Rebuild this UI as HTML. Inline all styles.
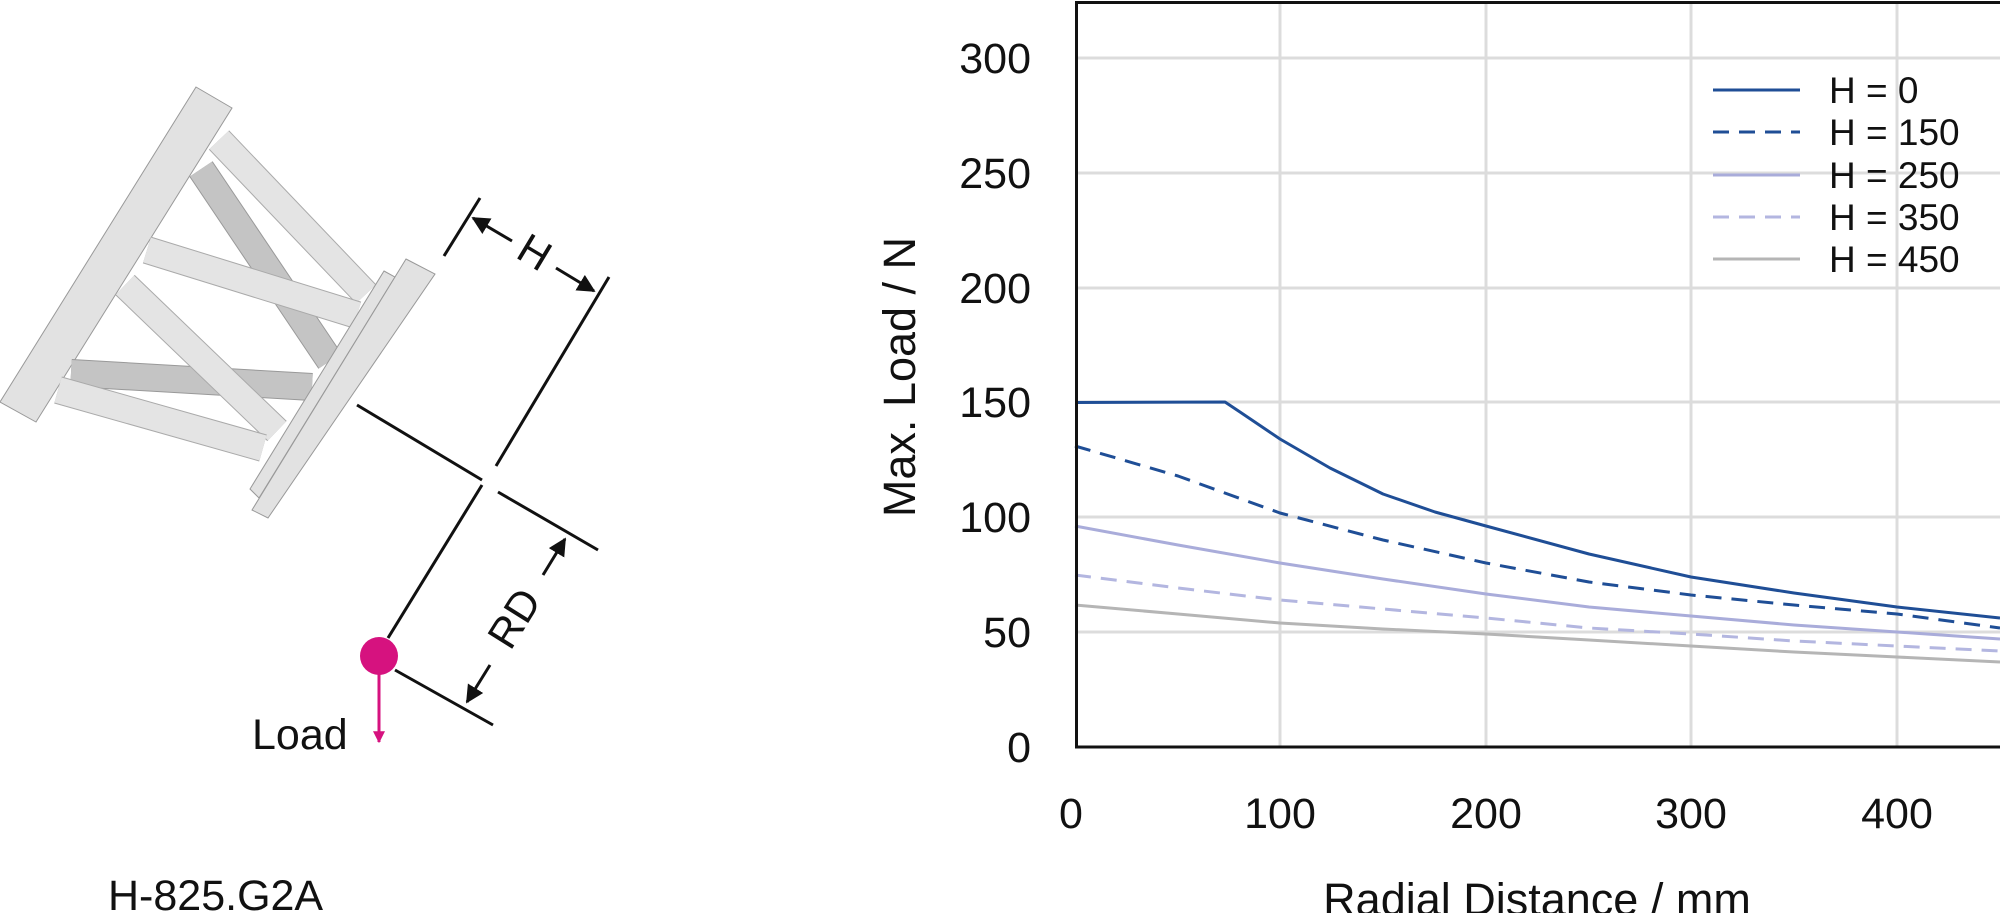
<!DOCTYPE html>
<html><head><meta charset="utf-8"><style>
html,body{margin:0;padding:0;background:#fff;width:2000px;height:913px;overflow:hidden}
svg{display:block}
text{font-family:"Liberation Sans",sans-serif;fill:#111}
</style></head><body>
<svg width="2000" height="913" viewBox="0 0 2000 913">
<defs><marker id="ar" viewBox="0 0 10 10" refX="9" refY="5" markerWidth="6" markerHeight="6" orient="auto-start-reverse"><path d="M0,0 L10,5 L0,10 z" fill="#111"/></marker>
<marker id="am" viewBox="0 0 10 10" refX="9" refY="5" markerWidth="4" markerHeight="4" orient="auto"><path d="M0,0 L10,5 L0,10 z" fill="#d6127f"/></marker></defs>
<g stroke="#999" stroke-width="1">
<polygon points="196,87 232,108 36,422 0,402" fill="#e2e2e2"/>
</g>
<g stroke-linecap="butt">
<line x1="201" y1="169" x2="330" y2="361" stroke="#999" stroke-width="28"/>
<line x1="201" y1="169" x2="330" y2="361" stroke="#c4c4c4" stroke-width="26"/>
<line x1="71" y1="373" x2="312" y2="387" stroke="#999" stroke-width="28"/>
<line x1="71" y1="373" x2="312" y2="387" stroke="#c4c4c4" stroke-width="26"/>
<line x1="219" y1="140" x2="366" y2="294" stroke="#aaa" stroke-width="28"/>
<line x1="219" y1="140" x2="366" y2="294" stroke="#e4e4e4" stroke-width="26"/>
<line x1="147" y1="250" x2="357" y2="315" stroke="#aaa" stroke-width="28"/>
<line x1="147" y1="250" x2="357" y2="315" stroke="#e4e4e4" stroke-width="26"/>
<line x1="125" y1="285" x2="277" y2="431" stroke="#aaa" stroke-width="28"/>
<line x1="125" y1="285" x2="277" y2="431" stroke="#e4e4e4" stroke-width="26"/>
<line x1="58" y1="390" x2="263" y2="448" stroke="#aaa" stroke-width="28"/>
<line x1="58" y1="390" x2="263" y2="448" stroke="#e4e4e4" stroke-width="26"/>
</g>
<g stroke="#999" stroke-width="1" fill="#e2e2e2">
<polygon points="384,271 395,277 259,498 250,489"/>
<polygon points="406,259 435,274 268,518 252,510"/>
</g>
<g stroke="#111" stroke-width="3" fill="none">
<polyline points="357,405 482,480"/>
<polyline points="482,485 388,638"/>
<line x1="444" y1="256" x2="480" y2="198"/>
<line x1="496" y1="466" x2="609" y2="277"/>
<line x1="498" y1="492" x2="598" y2="550"/>
<line x1="395" y1="670" x2="493" y2="725"/>
<line x1="473" y1="218" x2="512" y2="241" marker-start="url(#ar)"/>
<line x1="556" y1="268" x2="594" y2="291" marker-end="url(#ar)"/>
<line x1="565" y1="539" x2="543" y2="575" marker-start="url(#ar)"/>
<line x1="490" y1="665" x2="467" y2="702" marker-end="url(#ar)"/>
</g>
<text x="533" y="255" font-size="42" text-anchor="middle" dominant-baseline="middle" transform="rotate(31 533 255)">H</text>
<text x="517" y="620" font-size="42" text-anchor="middle" dominant-baseline="middle" transform="rotate(-58 517 620)">RD</text>
<line x1="379" y1="660" x2="379" y2="742" stroke="#d6127f" stroke-width="3" marker-end="url(#am)"/>
<ellipse cx="379" cy="656" rx="19" ry="19" fill="#d6127f"/>
<text x="252" y="749" font-size="43">Load</text>
<text x="108" y="910" font-size="43">H-825.G2A</text>
<g stroke="#dcdcdc" stroke-width="3">
<line x1="1075" y1="58" x2="2000" y2="58"/><line x1="1075" y1="173" x2="2000" y2="173"/>
<line x1="1075" y1="288" x2="2000" y2="288"/><line x1="1075" y1="402" x2="2000" y2="402"/>
<line x1="1075" y1="517" x2="2000" y2="517"/><line x1="1075" y1="632" x2="2000" y2="632"/>
<line x1="1280" y1="3" x2="1280" y2="747"/><line x1="1486" y1="3" x2="1486" y2="747"/>
<line x1="1691" y1="3" x2="1691" y2="747"/><line x1="1897" y1="3" x2="1897" y2="747"/>
</g>
<g fill="none" stroke-width="3" stroke-linejoin="round">
<polyline stroke="#b5b5b5" points="1075,605 1178,614 1280,623 1383,629 1486,634 1589,640 1691,646 1794,652 1897,657 2000,662"/>
<polyline stroke="#b3b6e0" stroke-dasharray="16,10" points="1075,575 1178,588 1280,600 1383,609 1486,618 1589,628 1691,634 1794,641 1897,646 2000,651"/>
<polyline stroke="#a9acda" points="1075,526 1178,545 1280,563 1383,579 1486,594 1589,607 1691,616 1794,625 1897,632 2000,639"/>
<polyline stroke="#1f4e96" stroke-dasharray="16,10" points="1075,446 1178,476 1280,513 1383,540 1486,563 1589,582 1691,595 1794,605 1897,614 2000,628"/>
<polyline stroke="#1f4e96" points="1075,402.5 1225,402 1240,412 1280,439 1330,468 1383,494 1435,512 1486,526 1589,554 1691,577 1794,593 1897,607 2000,618"/>
</g>
<rect x="1076.5" y="2.5" width="925" height="744.5" fill="none" stroke="#111" stroke-width="3"/>
<g font-size="37">
<line x1="1713" y1="90" x2="1800" y2="90" stroke="#1f4e96" stroke-width="3"/>
<line x1="1713" y1="132" x2="1800" y2="132" stroke="#1f4e96" stroke-width="3" stroke-dasharray="16,10"/>
<line x1="1713" y1="175" x2="1800" y2="175" stroke="#a9acda" stroke-width="3"/>
<line x1="1713" y1="217" x2="1800" y2="217" stroke="#b3b6e0" stroke-width="3" stroke-dasharray="16,10"/>
<line x1="1713" y1="259" x2="1800" y2="259" stroke="#b5b5b5" stroke-width="3"/>
<text x="1829" y="103">H = 0</text><text x="1829" y="145">H = 150</text>
<text x="1829" y="188">H = 250</text><text x="1829" y="230">H = 350</text>
<text x="1829" y="272">H = 450</text>
</g>
<g font-size="43" text-anchor="end">
<text x="1031" y="73">300</text><text x="1031" y="188">250</text><text x="1031" y="303">200</text>
<text x="1031" y="417">150</text><text x="1031" y="532">100</text><text x="1031" y="647">50</text>
<text x="1031" y="762">0</text>
</g>
<g font-size="43" text-anchor="middle">
<text x="1071" y="828">0</text><text x="1280" y="828">100</text><text x="1486" y="828">200</text>
<text x="1691" y="828">300</text><text x="1897" y="828">400</text>
</g>
<g font-size="45" text-anchor="middle">
<text x="1537" y="915">Radial Distance / mm</text>
<text x="915" y="377" transform="rotate(-90 915 377)">Max. Load / N</text>
</g>
</svg>
</body></html>
